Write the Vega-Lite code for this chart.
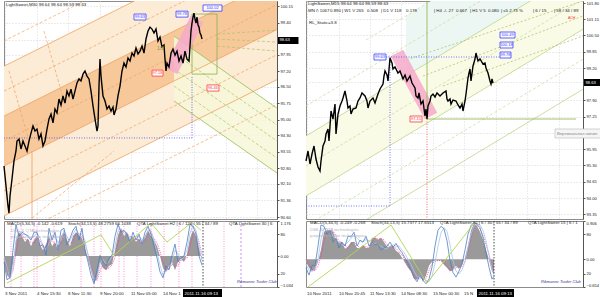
{
"$schema": "https://vega.github.io/schema/vega-lite/v6.json",
"padding": 0,
"background": "white",
"bounds": "flush",
"columns": 2,
"spacing": {"row": 2, "column": 29},
"config": {
 "view": {"stroke": "#8c8c8c", "strokeWidth": 1},
 "axis": {"labelFont": "Liberation Sans", "labelFontSize": 4.1, "labelColor": "#222", "tickColor": "#555", "domainColor": "#555", "tickSize": 2, "labelPadding": 1, "labelOverlap": false},
 "text": {"font": "Liberation Sans", "fontSize": 4.4}
},
"concat": [
  {"width": 273, "height": 218,
   "encoding": {
    "x": {"field": "t", "type": "quantitative", "title": null, "scale": {"domain": [0, 273], "nice": false, "zero": false}, "axis": {"values": [1,33,64,96,127,159,190,222,253], "labels": false, "ticks": false, "domain": false, "grid": true, "gridDash": [1,2], "gridColor": "#dadada"}},
    "y": {"field": "p", "type": "quantitative", "title": null, "scale": {"domain": [90.51, 100.38], "nice": false, "zero": false},
     "axis": {"orient": "right", "values": [100.15,99.40,98.63,97.95,97.20,96.50,95.75,95.00,94.30,93.55,92.80,92.10,91.36,90.60], "format": ".2f", "grid": true, "gridDash": [1,2], "gridColor": "#d6d6d6",
      "tickSize": {"condition": {"test": "datum.value === 98.63", "value": 21}, "value": 2},
      "tickWidth": {"condition": {"test": "datum.value === 98.63", "value": 7}, "value": 1},
      "tickColor": {"condition": {"test": "datum.value === 98.63", "value": "#000"}, "value": "#555"},
      "labelPadding": {"condition": {"test": "datum.value === 98.63", "value": -19}, "value": 1},
      "labelColor": {"condition": {"test": "datum.value === 98.63", "value": "#fff"}, "value": "#222"}}}
   },
   "layer": [
    {"data": {"values": [{"t":0,"p":97.43,"p2":90.65},{"t":273,"p":103.61,"p2":96.82}]}, "mark": {"type": "area", "color": "#fcebd5", "clip": true}, "encoding": {"y2": {"field": "p2"}}},
    {"data": {"values": [{"t":0,"p":95.17,"p2":92.91},{"t":273,"p":101.35,"p2":99.09}]}, "mark": {"type": "area", "color": "#f7c99a", "clip": true}, "encoding": {"y2": {"field": "p2"}}},
    {"data": {"values": [{"t":170,"p":98.79,"p2":95.85},{"t":273,"p":95.53,"p2":92.59}]}, "mark": {"type": "area", "color": "#f7f7d8", "opacity": 0.85, "clip": true}, "encoding": {"y2": {"field": "p2"}}},
    {"data": {"values": [{"t":0,"p":97.43,"k":"a"},{"t":273,"p":103.61,"k":"a"},{"t":0,"p":95.17,"k":"b"},{"t":273,"p":101.35,"k":"b"},{"t":0,"p":92.91,"k":"c"},{"t":273,"p":99.09,"k":"c"},{"t":0,"p":90.65,"k":"d"},{"t":273,"p":96.82,"k":"d"},{"t":28,"p":93.59,"k":"e"},{"t":28,"p":90.51,"k":"e"}]}, "mark": {"type": "line", "color": "#f0a060", "strokeWidth": 0.8, "clip": true}, "encoding": {"detail": {"field": "k"}}},
    {"data": {"values": [{"t":0,"p":98.57,"k":"a"},{"t":273,"p":104.74,"k":"a"},{"t":0,"p":96.30,"k":"b"},{"t":273,"p":102.48,"k":"b"},{"t":0,"p":94.04,"k":"c"},{"t":273,"p":100.22,"k":"c"},{"t":0,"p":91.78,"k":"d"},{"t":273,"p":97.95,"k":"d"},{"t":0,"p":89.52,"k":"e"},{"t":273,"p":95.69,"k":"e"},{"t":40,"p":99.02,"k":"f"},{"t":60,"p":95.85,"k":"f"},{"t":5,"p":97.21,"k":"g"},{"t":25,"p":94.04,"k":"g"},{"t":28,"p":90.55,"k":"h"},{"t":110,"p":93.59,"k":"h"}]}, "mark": {"type": "line", "color": "#f0a060", "strokeWidth": 0.7, "strokeDash": [3,2], "clip": true}, "encoding": {"detail": {"field": "k"}}},
    {"data": {"values": [{"t":170,"p":98.79,"k":"a"},{"t":273,"p":95.53,"k":"a"},{"t":170,"p":95.85,"k":"b"},{"t":273,"p":92.59,"k":"b"}]}, "mark": {"type": "line", "color": "#9bbb59", "strokeWidth": 0.8, "clip": true}, "encoding": {"detail": {"field": "k"}}},
    {"data": {"values": [{"t":170,"p":98.02,"k":"a"},{"t":273,"p":94.77,"k":"a"},{"t":170,"p":97.30,"k":"b"},{"t":273,"p":94.04,"k":"b"},{"t":170,"p":96.53,"k":"c"},{"t":273,"p":93.27,"k":"c"},{"t":213,"p":98.88,"k":"d"},{"t":273,"p":99.06,"k":"d"},{"t":213,"p":98.66,"k":"e"},{"t":273,"p":98.52,"k":"e"},{"t":213,"p":98.34,"k":"f"},{"t":273,"p":98.11,"k":"f"}]}, "mark": {"type": "line", "color": "#a9c463", "strokeWidth": 0.7, "strokeDash": [3,2], "clip": true}, "encoding": {"detail": {"field": "k"}}},
    {"data": {"values": [{"a":188,"b":213,"hi":99.79,"lo":97.07}]}, "mark": {"type": "rect", "fillOpacity": 0, "stroke": "#8fae4a", "strokeWidth": 0.8}, "encoding": {"x": {"field": "a", "type": "quantitative"}, "x2": {"field": "b"}, "y": {"field": "hi", "type": "quantitative"}, "y2": {"field": "lo"}}},
    {"data": {"values": [{"t":160.7,"p":97.35,"p2":97.35},{"t":173.3,"p":98.49,"p2":97.07},{"t":186.7,"p":99.70,"p2":98.28},{"t":199.3,"p":99.42,"p2":99.42}]}, "mark": {"type": "area", "color": "#f6a9c9", "opacity": 0.85}, "encoding": {"y2": {"field": "p2"}}},
    {"data": {"values": [{"p":98.63}]}, "mark": {"type": "rule", "color": "#b9b9b9", "strokeWidth": 0.8}, "encoding": {"x": {"datum": 0}, "x2": {"datum": 273}}},
    {"data": {"values": [{"t":0,"t2":188,"p":94.18,"p2":94.18},{"t":188,"t2":188,"p":94.18,"p2":96.98}]}, "mark": {"type": "rule", "color": "#5050ff", "strokeWidth": 0.8, "strokeDash": [1,1.5]}, "encoding": {"x2": {"field": "t2"}, "y2": {"field": "p2"}}},
    {"data": {"values": [{"t":199}]}, "mark": {"type": "rule", "color": "#222", "strokeWidth": 0.8, "strokeDash": [1.5,1.5]}, "encoding": {"y": {"datum": 100.38}, "y2": {"datum": 90.51}}},
    {"data": {"values": [{"t":0,"p":92.91},{"t":2,"p":92.00},{"t":4,"p":91.10},{"t":5,"p":90.78},{"t":6,"p":91.55},{"t":8,"p":92.32},{"t":10,"p":93.14},{"t":12,"p":93.59},{"t":13,"p":94.04},{"t":15,"p":94.13},{"t":17,"p":93.68},{"t":19,"p":94.04},{"t":21,"p":93.82},{"t":23,"p":93.59},{"t":25,"p":94.04},{"t":27,"p":94.40},{"t":29,"p":94.72},{"t":31,"p":94.49},{"t":33,"p":94.58},{"t":35,"p":94.13},{"t":37,"p":94.36},{"t":39,"p":93.82},{"t":41,"p":94.04},{"t":43,"p":94.58},{"t":45,"p":95.04},{"t":47,"p":95.26},{"t":49,"p":94.86},{"t":51,"p":95.49},{"t":53,"p":95.31},{"t":55,"p":95.94},{"t":57,"p":95.67},{"t":59,"p":96.08},{"t":61,"p":95.76},{"t":63,"p":96.30},{"t":65,"p":96.08},{"t":67,"p":96.39},{"t":69,"p":95.94},{"t":71,"p":96.30},{"t":73,"p":96.67},{"t":75,"p":96.85},{"t":77,"p":96.76},{"t":79,"p":97.07},{"t":81,"p":97.21},{"t":83,"p":96.98},{"t":85,"p":96.85},{"t":87,"p":96.30},{"t":89,"p":95.63},{"t":91,"p":95.04},{"t":93,"p":94.49},{"t":94,"p":94.72},{"t":95,"p":96.53},{"t":96,"p":97.75},{"t":97,"p":96.98},{"t":99,"p":96.08},{"t":101,"p":95.85},{"t":103,"p":95.49},{"t":105,"p":95.63},{"t":107,"p":95.40},{"t":109,"p":95.58},{"t":110,"p":95.22},{"t":112,"p":95.49},{"t":114,"p":96.08},{"t":116,"p":96.53},{"t":118,"p":97.21},{"t":120,"p":97.57},{"t":122,"p":97.39},{"t":124,"p":97.80},{"t":126,"p":97.66},{"t":128,"p":98.02},{"t":130,"p":97.89},{"t":132,"p":98.25},{"t":134,"p":97.98},{"t":136,"p":98.11},{"t":138,"p":98.34},{"t":140,"p":98.02},{"t":142,"p":98.66},{"t":144,"p":99.02},{"t":146,"p":99.20},{"t":148,"p":99.11},{"t":150,"p":98.93},{"t":152,"p":99.11},{"t":154,"p":98.57},{"t":156,"p":98.75},{"t":158,"p":98.30},{"t":160,"p":98.39},{"t":161,"p":97.75},{"t":162,"p":97.21},{"t":163,"p":97.57},{"t":165,"p":97.39},{"t":167,"p":98.02},{"t":169,"p":98.20},{"t":171,"p":97.93},{"t":173,"p":98.11},{"t":175,"p":97.66},{"t":177,"p":97.89},{"t":179,"p":97.57},{"t":181,"p":98.11},{"t":183,"p":97.75},{"t":185,"p":97.66},{"t":186,"p":98.34},{"t":187,"p":99.02},{"t":188,"p":99.38},{"t":189,"p":99.65},{"t":190,"p":99.83},{"t":191,"p":99.56},{"t":192,"p":99.38},{"t":193,"p":99.65},{"t":194,"p":99.29},{"t":195,"p":99.20},{"t":196,"p":98.93},{"t":197,"p":98.84},{"t":198,"p":98.66}]}, "mark": {"type": "line", "color": "#000", "strokeWidth": 1.4}},
    {"data": {"values": [{"a":130,"b":142,"hi":99.79,"lo":99.52,"t":136,"p":99.65,"k":"up","txt":"99.63"},{"a":172,"b":184,"hi":99.92,"lo":99.65,"t":178,"p":99.79,"k":"up","txt":"99.78"},{"a":199,"b":218,"hi":100.20,"lo":99.92,"t":208.5,"p":100.06,"k":"up","txt":"100.02"},{"a":148,"b":159,"hi":97.25,"lo":96.98,"t":153.5,"p":97.12,"k":"dn","txt":"97.18"},{"a":203,"b":215,"hi":96.58,"lo":96.30,"t":209,"p":96.44,"k":"dn","txt":"96.46"}]},
     "layer": [
      {"mark": {"type": "rect", "fill": "#fbfbff", "strokeWidth": 0.8}, "encoding": {"x": {"field": "a", "type": "quantitative"}, "x2": {"field": "b"}, "y": {"field": "hi", "type": "quantitative"}, "y2": {"field": "lo"}, "stroke": {"field": "k", "type": "nominal", "scale": {"domain": ["up","dn"], "range": ["#3c3cff","#ff3c3c"]}, "legend": null}}},
      {"mark": {"type": "text", "fontSize": 4, "align": "center", "baseline": "middle"}, "encoding": {"text": {"field": "txt"}, "color": {"field": "k", "type": "nominal", "scale": {"domain": ["up","dn"], "range": ["#3c3cff","#ff3c3c"]}, "legend": null}}}
     ]},
    {"data": {"values": [{"t":2,"p":100.31,"txt":"LightSweet,M30  98.64 98.64 98.59 98.63"}]}, "mark": {"type": "text", "align": "left", "baseline": "top", "color": "#222"}, "encoding": {"text": {"field": "txt"}}},
    {"data": {"values": [{"t":153,"p":98.25,"txt":"1/2"}]}, "mark": {"type": "text", "align": "left", "baseline": "middle", "color": "#8a9a40", "fontSize": 5}, "encoding": {"text": {"field": "txt"}}}
   ]
  },
  {"width": 277, "height": 218,
   "encoding": {
    "x": {"field": "t", "type": "quantitative", "title": null, "scale": {"domain": [0, 277], "nice": false, "zero": false}, "axis": {"values": [1,33,64,95,127,158,190,221,253], "labels": false, "ticks": false, "domain": false, "grid": true, "gridDash": [1,2], "gridColor": "#dadada"}},
    "y": {"field": "p", "type": "quantitative", "title": null, "scale": {"domain": [93.16, 101.88], "nice": false, "zero": false},
     "axis": {"orient": "right", "values": [101.80,101.15,100.50,99.85,99.20,98.63,97.90,97.25,96.60,95.95,95.30,94.65,94.00,93.35], "format": ".2f", "grid": true, "gridDash": [1,2], "gridColor": "#d6d6d6",
      "tickSize": {"condition": {"test": "datum.value === 98.63", "value": 21}, "value": 2},
      "tickWidth": {"condition": {"test": "datum.value === 98.63", "value": 7}, "value": 1},
      "tickColor": {"condition": {"test": "datum.value === 98.63", "value": "#000"}, "value": "#555"},
      "labelPadding": {"condition": {"test": "datum.value === 98.63", "value": -19}, "value": 1},
      "labelColor": {"condition": {"test": "datum.value === 98.63", "value": "#fff"}, "value": "#222"}}}
   },
   "layer": [
    {"data": {"values": [{"t":0,"p":96.48,"p2":94.08},{"t":277,"p":103.15,"p2":100.75}]}, "mark": {"type": "area", "color": "#fafbe6", "clip": true}, "encoding": {"y2": {"field": "p2"}}},
    {"data": {"values": [{"t":100,"p":101.28,"p2":98.88},{"t":277,"p":105.55,"p2":103.15}]}, "mark": {"type": "area", "color": "#ecf7f4", "clip": true}, "encoding": {"y2": {"field": "p2"}}},
    {"data": {"values": [{"t":0,"p":94.08,"k":"a"},{"t":277,"p":100.75,"k":"a"},{"t":0,"p":96.48,"k":"b"},{"t":277,"p":103.15,"k":"b"},{"t":0,"p":91.68,"k":"c"},{"t":277,"p":98.35,"k":"c"}]}, "mark": {"type": "line", "color": "#bdd48c", "strokeWidth": 0.8, "clip": true}, "encoding": {"detail": {"field": "k"}}},
    {"data": {"values": [{"t":0,"p":95.28,"k":"a"},{"t":277,"p":101.95,"k":"a"},{"t":0,"p":97.68,"k":"b"},{"t":277,"p":104.35,"k":"b"},{"t":0,"p":92.88,"k":"c"},{"t":277,"p":99.55,"k":"c"},{"t":60,"p":100.32,"k":"d"},{"t":277,"p":105.55,"k":"d"}]}, "mark": {"type": "line", "color": "#c6da98", "strokeWidth": 0.7, "strokeDash": [3,2], "clip": true}, "encoding": {"detail": {"field": "k"}}},
    {"data": {"values": [{"t":97,"p":99.48,"k":"a"},{"t":277,"p":101.88,"k":"a"},{"t":117,"p":98.88,"k":"b"},{"t":277,"p":101.28,"k":"b"},{"t":137,"p":98.48,"k":"c"},{"t":277,"p":100.48,"k":"c"}]}, "mark": {"type": "line", "color": "#a2bc5c", "strokeWidth": 0.7, "strokeDash": [2,2], "clip": true}, "encoding": {"detail": {"field": "k"}}},
    {"data": {"values": [{"t":84.8,"p":99.67,"p2":99.67},{"t":97.2,"p":99.93,"p2":98.75},{"t":118.8,"p":98.33,"p2":97.15},{"t":131.2,"p":97.41,"p2":97.41}]}, "mark": {"type": "area", "color": "#f6a9c9", "opacity": 0.85}, "encoding": {"y2": {"field": "p2"}}},
    {"data": {"values": [{"p":98.63}]}, "mark": {"type": "rule", "color": "#f4a582", "strokeWidth": 1.1}, "encoding": {"x": {"datum": 0}, "x2": {"datum": 277}}},
    {"data": {"values": [{"t":121,"t2":121,"p":101.88,"p2":97.16},{"t":121,"t2":270,"p":97.16,"p2":97.16}]}, "mark": {"type": "rule", "color": "#8fb04a", "strokeWidth": 0.8}, "encoding": {"x2": {"field": "t2"}, "y2": {"field": "p2"}}},
    {"data": {"values": [{"t":80,"t2":194,"p":99.64,"p2":99.64},{"t":84,"t2":84,"p":99.64,"p2":93.68},{"t":0,"t2":84,"p":93.68,"p2":93.68}]}, "mark": {"type": "rule", "color": "#5050ff", "strokeWidth": 0.8, "strokeDash": [1,1.5]}, "encoding": {"x2": {"field": "t2"}, "y2": {"field": "p2"}}},
    {"data": {"values": [{"t":121,"t2":121,"p":97.16,"p2":93.16}]}, "mark": {"type": "rule", "color": "#ff4040", "strokeWidth": 0.8, "strokeDash": [1,1.5]}, "encoding": {"x2": {"field": "t2"}, "y2": {"field": "p2"}}},
    {"data": {"values": [{"t":188}]}, "mark": {"type": "rule", "color": "#222", "strokeWidth": 0.8, "strokeDash": [1.5,1.5]}, "encoding": {"y": {"datum": 101.88}, "y2": {"datum": 93.16}}},
    {"data": {"values": [{"t":0,"p":95.48},{"t":2,"p":95.88},{"t":4,"p":95.36},{"t":6,"p":95.76},{"t":8,"p":96.08},{"t":10,"p":95.56},{"t":12,"p":95.24},{"t":14,"p":95.08},{"t":15,"p":95.48},{"t":17,"p":96.08},{"t":19,"p":96.28},{"t":20,"p":96.56},{"t":22,"p":96.76},{"t":23,"p":96.28},{"t":25,"p":97.48},{"t":27,"p":97.16},{"t":29,"p":97.76},{"t":30,"p":96.56},{"t":32,"p":97.36},{"t":34,"p":97.68},{"t":36,"p":97.88},{"t":37,"p":98.00},{"t":39,"p":98.28},{"t":41,"p":97.88},{"t":42,"p":97.60},{"t":44,"p":97.68},{"t":45,"p":97.36},{"t":47,"p":97.56},{"t":50,"p":97.60},{"t":52,"p":97.88},{"t":54,"p":98.00},{"t":56,"p":98.20},{"t":59,"p":98.08},{"t":61,"p":97.88},{"t":62,"p":97.60},{"t":64,"p":97.88},{"t":67,"p":98.00},{"t":69,"p":97.80},{"t":72,"p":98.16},{"t":74,"p":98.36},{"t":77,"p":98.56},{"t":78,"p":98.88},{"t":79,"p":99.08},{"t":81,"p":98.92},{"t":82,"p":98.68},{"t":84,"p":99.60},{"t":86,"p":99.40},{"t":87,"p":99.16},{"t":89,"p":99.24},{"t":92,"p":99.00},{"t":94,"p":99.08},{"t":97,"p":98.76},{"t":99,"p":98.92},{"t":101,"p":98.68},{"t":104,"p":98.88},{"t":106,"p":98.60},{"t":109,"p":98.40},{"t":110,"p":98.08},{"t":112,"p":98.00},{"t":113,"p":98.20},{"t":115,"p":97.76},{"t":117,"p":97.88},{"t":119,"p":97.28},{"t":120,"p":97.56},{"t":121,"p":97.16},{"t":122,"p":97.68},{"t":124,"p":97.88},{"t":125,"p":98.08},{"t":127,"p":98.16},{"t":129,"p":98.04},{"t":131,"p":98.20},{"t":134,"p":98.08},{"t":137,"p":98.20},{"t":140,"p":98.28},{"t":141,"p":97.96},{"t":142,"p":97.88},{"t":144,"p":97.96},{"t":145,"p":97.76},{"t":147,"p":97.92},{"t":150,"p":97.88},{"t":152,"p":97.72},{"t":154,"p":97.60},{"t":156,"p":97.76},{"t":157,"p":97.48},{"t":159,"p":97.88},{"t":160,"p":98.16},{"t":162,"p":98.80},{"t":163,"p":99.00},{"t":164,"p":99.16},{"t":165,"p":98.68},{"t":167,"p":99.28},{"t":169,"p":99.56},{"t":170,"p":99.80},{"t":172,"p":99.48},{"t":174,"p":99.56},{"t":177,"p":99.36},{"t":179,"p":99.40},{"t":180,"p":99.20},{"t":182,"p":99.00},{"t":184,"p":98.68},{"t":185,"p":98.56},{"t":186,"p":98.76},{"t":187,"p":98.60}]}, "mark": {"type": "line", "color": "#000", "strokeWidth": 1.4}},
    {"data": {"values": [{"a":68,"b":80,"hi":99.76,"lo":99.52,"t":74,"p":99.64,"k":"up","txt":"99.63"},{"a":194,"b":205,"hi":99.84,"lo":99.60,"t":199.5,"p":99.72,"k":"up","txt":"99.78"},{"a":194,"b":207,"hi":100.24,"lo":100.00,"t":200.5,"p":100.12,"k":"up","txt":"100.18"},{"a":194,"b":209,"hi":100.64,"lo":100.40,"t":201.5,"p":100.52,"k":"up","txt":"100.49"},{"a":104,"b":116,"hi":97.28,"lo":97.04,"t":110,"p":97.16,"k":"dn","txt":"97.15"}]},
     "layer": [
      {"mark": {"type": "rect", "fill": "#fbfbff", "strokeWidth": 0.8}, "encoding": {"x": {"field": "a", "type": "quantitative"}, "x2": {"field": "b"}, "y": {"field": "hi", "type": "quantitative"}, "y2": {"field": "lo"}, "stroke": {"field": "k", "type": "nominal", "scale": {"domain": ["up","dn"], "range": ["#3c3cff","#ff3c3c"]}, "legend": null}}},
      {"mark": {"type": "text", "fontSize": 4, "align": "center", "baseline": "middle"}, "encoding": {"text": {"field": "txt"}, "color": {"field": "k", "type": "nominal", "scale": {"domain": ["up","dn"], "range": ["#3c3cff","#ff3c3c"]}, "legend": null}}}
     ]},
    {"data": {"values": [{"a":249,"b":298,"hi":96.76,"lo":96.40}]}, "mark": {"type": "rect", "fill": "#f5f5f5", "stroke": "#c0c0c0", "strokeWidth": 0.7}, "encoding": {"x": {"field": "a", "type": "quantitative"}, "x2": {"field": "b"}, "y": {"field": "hi", "type": "quantitative"}, "y2": {"field": "lo"}}},
    {"data": {"values": [{"t":251,"p":96.58,"txt":"Вертикальная линия"}]}, "mark": {"type": "text", "align": "left", "baseline": "middle", "color": "#888", "fontSize": 4.2}, "encoding": {"text": {"field": "txt"}}},
    {"data": {"values": [{"t":2,"p":101.83,"txt":"LightSweet,M15  98.64 98.64 98.59 98.63"},{"t":2,"p":101.55,"txt":"MN /\\ 1067"},{"t":24,"p":101.55,"txt":"0.890"},{"t":36,"p":101.55,"txt":"| W1 V 265"},{"t":61,"p":101.55,"txt":"0.508"},{"t":75,"p":101.55,"txt":"| D1 V 118"},{"t":100,"p":101.55,"txt":"0.178"},{"t":128,"p":101.55,"txt":"| H4 -/- 27"},{"t":150,"p":101.55,"txt":"0.667"},{"t":164,"p":101.55,"txt":"| H1 V 5"},{"t":182,"p":101.55,"txt":"0.080"},{"t":195,"p":101.55,"txt":"| s5  2.73 %"},{"t":227,"p":101.55,"txt":"| 6 / 15"},{"t":248,"p":101.55,"txt":"| 58 / 34 / 89"},{"t":3,"p":101.08,"txt":"RL_Static=3.8"}]}, "mark": {"type": "text", "align": "left", "baseline": "top", "color": "#222"}, "encoding": {"text": {"field": "txt"}}},
    {"data": {"values": [{"t":262,"p":101.20,"txt":"ACH"}]}, "mark": {"type": "text", "align": "left", "baseline": "middle", "color": "#ff3030", "fontSize": 3.5}, "encoding": {"text": {"field": "txt"}}}
   ]
  },
  {"width": 273, "height": 66,
   "encoding": {"x": {"field": "t", "type": "quantitative", "title": null, "scale": {"domain": [0, 273], "nice": false, "zero": false}, "axis": null}},
   "resolve": {"scale": {"y": "independent"}},
   "layer": [
    {"data": {"values": [{"v":80},{"v":20}]}, "mark": {"type": "rule", "color": "#c8c8c8", "strokeDash": [1,2], "strokeWidth": 0.8}, "encoding": {"x": {"datum": 0}, "x2": {"datum": 273}, "y": {"field": "v", "type": "quantitative", "scale": {"domain": [0,100], "nice": false, "zero": false}, "axis": null}}},
    {"data": {"values": [{"t":7},{"t":17},{"t":30},{"t":33},{"t":50},{"t":77},{"t":90},{"t":97},{"t":115},{"t":120},{"t":133},{"t":147},{"t":160},{"t":175},{"t":188},{"t":220}]}, "mark": {"type": "rule", "color": "#ff66cc", "strokeWidth": 0.7, "strokeDash": [1,1.5]}},
    {"data": {"values": [{"t":237}]}, "mark": {"type": "rule", "color": "#a066ee", "strokeWidth": 0.7, "strokeDash": [2,2]}},
    {"data": {"name": "indL", "values": [{"t":0,"m":-0.20,"g":-0.10,"s1":38,"s2":45},{"t":3,"m":-0.64,"g":-0.42,"s1":11,"s2":30},{"t":6,"m":-0.75,"g":-0.70,"s1":14,"s2":13},{"t":9,"m":-0.25,"g":-0.50,"s1":56,"s2":30},{"t":12,"m":0.54,"g":0.15,"s1":94,"s2":70},{"t":15,"m":0.80,"g":0.67,"s1":77,"s2":85},{"t":18,"m":0.67,"g":0.73,"s1":83,"s2":80},{"t":21,"m":0.47,"g":0.57,"s1":80,"s2":80},{"t":24,"m":0.60,"g":0.53,"s1":77,"s2":78},{"t":27,"m":0.33,"g":0.46,"s1":71,"s2":74},{"t":30,"m":0.54,"g":0.44,"s1":83,"s2":76},{"t":33,"m":0.67,"g":0.60,"s1":83,"s2":82},{"t":36,"m":0.37,"g":0.52,"s1":62,"s2":74},{"t":39,"m":0.20,"g":0.28,"s1":64,"s2":63},{"t":42,"m":0.40,"g":0.30,"s1":48,"s2":56},{"t":45,"m":0.67,"g":0.54,"s1":89,"s2":66},{"t":48,"m":0.33,"g":0.50,"s1":71,"s2":78},{"t":51,"m":0.47,"g":0.40,"s1":83,"s2":76},{"t":54,"m":0.20,"g":0.33,"s1":56,"s2":68},{"t":57,"m":0.67,"g":0.44,"s1":86,"s2":70},{"t":60,"m":0.80,"g":0.74,"s1":89,"s2":86},{"t":63,"m":0.54,"g":0.67,"s1":64,"s2":76},{"t":66,"m":0.33,"g":0.43,"s1":74,"s2":70},{"t":69,"m":0.67,"g":0.50,"s1":86,"s2":80},{"t":72,"m":0.80,"g":0.74,"s1":92,"s2":88},{"t":75,"m":0.70,"g":0.75,"s1":71,"s2":80},{"t":78,"m":0.60,"g":0.65,"s1":89,"s2":80},{"t":81,"m":0.27,"g":0.43,"s1":56,"s2":70},{"t":84,"m":-0.13,"g":0.07,"s1":38,"s2":48},{"t":87,"m":-0.47,"g":-0.30,"s1":18,"s2":28},{"t":90,"m":-0.90,"g":-0.68,"s1":5,"s2":12},{"t":93,"m":-0.74,"g":-0.82,"s1":26,"s2":14},{"t":96,"m":-0.20,"g":-0.47,"s1":48,"s2":36},{"t":99,"m":-0.40,"g":-0.30,"s1":38,"s2":42},{"t":102,"m":-0.47,"g":-0.43,"s1":32,"s2":35},{"t":105,"m":-0.33,"g":-0.40,"s1":44,"s2":38},{"t":108,"m":-0.27,"g":-0.30,"s1":48,"s2":46},{"t":111,"m":0.20,"g":-0.03,"s1":77,"s2":62},{"t":114,"m":0.70,"g":0.45,"s1":95,"s2":85},{"t":117,"m":0.94,"g":0.82,"s1":83,"s2":88},{"t":120,"m":0.67,"g":0.80,"s1":86,"s2":84},{"t":123,"m":0.80,"g":0.74,"s1":80,"s2":82},{"t":126,"m":0.54,"g":0.67,"s1":68,"s2":74},{"t":129,"m":0.67,"g":0.60,"s1":83,"s2":76},{"t":132,"m":0.47,"g":0.57,"s1":71,"s2":76},{"t":135,"m":0.60,"g":0.53,"s1":80,"s2":76},{"t":138,"m":0.40,"g":0.50,"s1":65,"s2":72},{"t":141,"m":0.67,"g":0.53,"s1":83,"s2":74},{"t":144,"m":0.87,"g":0.77,"s1":92,"s2":86},{"t":147,"m":0.67,"g":0.77,"s1":80,"s2":86},{"t":150,"m":0.54,"g":0.60,"s1":62,"s2":70},{"t":153,"m":0.33,"g":0.43,"s1":44,"s2":52},{"t":156,"m":0.00,"g":0.16,"s1":23,"s2":33},{"t":159,"m":-0.40,"g":-0.20,"s1":14,"s2":18},{"t":162,"m":-0.54,"g":-0.47,"s1":32,"s2":24},{"t":165,"m":-0.33,"g":-0.43,"s1":26,"s2":28},{"t":168,"m":-0.20,"g":-0.27,"s1":48,"s2":38},{"t":171,"m":-0.47,"g":-0.33,"s1":65,"s2":56},{"t":174,"m":-0.20,"g":-0.33,"s1":38,"s2":50},{"t":177,"m":-0.07,"g":-0.13,"s1":44,"s2":42},{"t":180,"m":-0.20,"g":-0.13,"s1":47,"s2":45},{"t":183,"m":0.07,"g":-0.07,"s1":68,"s2":56},{"t":186,"m":0.60,"g":0.33,"s1":95,"s2":82},{"t":189,"m":0.87,"g":0.73,"s1":92,"s2":93},{"t":192,"m":0.67,"g":0.77,"s1":80,"s2":86},{"t":195,"m":0.27,"g":0.47,"s1":47,"s2":62},{"t":198,"m":-0.13,"g":0.07,"s1":33,"s2":40}]},
     "mark": {"type": "area", "color": "#9a9a9a"},
     "encoding": {"y": {"field": "m", "type": "quantitative", "title": null, "scale": {"domain": [-1.034, 1.176], "nice": false, "zero": false},
       "axis": {"orient": "right", "values": [1.176, 0.734, 0, -0.592, -1.034], "labelFlush": true, "grid": false, "labelExpr": "datum.value == 0.734 ? '80' : datum.value == -0.592 ? '20' : datum.value == 0 ? '0.00' : format(datum.value, '.3f')"}},
      "y2": {"datum": 0}}},
    {"data": {"name": "indL"}, "mark": {"type": "line", "color": "#ff3399", "strokeWidth": 0.8, "strokeDash": [1,1]}, "encoding": {"y": {"field": "g", "type": "quantitative", "scale": {"domain": [-1.034, 1.176], "nice": false, "zero": false}, "axis": null}}},
    {"data": {"name": "indL"}, "mark": {"type": "line", "color": "#a8c6ea", "strokeWidth": 0.8}, "encoding": {"y": {"field": "s2", "type": "quantitative", "scale": {"domain": [0, 100], "nice": false, "zero": false}, "axis": null}}},
    {"data": {"name": "indL"}, "mark": {"type": "line", "color": "#4f7fc0", "strokeWidth": 0.8}, "encoding": {"y": {"field": "s1", "type": "quantitative", "scale": {"domain": [0, 100], "nice": false, "zero": false}, "axis": null}}},
    {"data": {"values": [{"t":3,"v":6},{"t":97,"v":79},{"t":110,"v":48},{"t":147,"v":97},{"t":163,"v":68},{"t":188,"v":98},{"t":197,"v":86}]}, "mark": {"type": "line", "color": "#b4d455", "strokeWidth": 0.9}, "encoding": {"y": {"field": "v", "type": "quantitative", "scale": {"domain": [0, 100], "nice": false, "zero": false}, "axis": null}}},
    {"data": {"values": [{"t":199}]}, "mark": {"type": "rule", "color": "#222", "strokeWidth": 0.8, "strokeDash": [1.5,1.5]}},
    {"data": {"values": [{"t":3,"v":95,"txt":"MACD(5,34,5) -0.142 -0.619"},{"t":64,"v":95,"txt":"Stoch(34,13,5) 48.2759 66.1038"},{"t":133,"v":95,"txt":"QTA LightSweet H2 | 6 / 120 / 55 / 34 / 89"},{"t":225,"v":95,"txt":"QTA LightSweet 30 | 6"}]}, "mark": {"type": "text", "align": "left", "baseline": "middle", "color": "#222"}, "encoding": {"text": {"field": "txt"}, "y": {"field": "v", "type": "quantitative", "scale": {"domain": [0, 100], "nice": false, "zero": false}, "axis": null}}},
    {"data": {"values": [{"t":7,"v":85,"txt":"DML & QTA technologies"},{"t":7,"v":76,"txt":"purposes of the technologies"}]}, "mark": {"type": "text", "align": "left", "baseline": "middle", "color": "#b4b4c4"}, "encoding": {"text": {"field": "txt"}, "y": {"field": "v", "type": "quantitative", "scale": {"domain": [0, 100], "nice": false, "zero": false}, "axis": null}}},
    {"data": {"values": [{"t":233,"v":7,"txt":"Rikmanov Trader Club"}]}, "mark": {"type": "text", "align": "left", "baseline": "middle", "color": "#333399", "fontStyle": "italic", "fontSize": 4}, "encoding": {"text": {"field": "txt"}, "y": {"field": "v", "type": "quantitative", "scale": {"domain": [0, 100], "nice": false, "zero": false}, "axis": null}}}
   ]
  },
  {"width": 277, "height": 66,
   "encoding": {"x": {"field": "t", "type": "quantitative", "title": null, "scale": {"domain": [0, 277], "nice": false, "zero": false}, "axis": null}},
   "resolve": {"scale": {"y": "independent"}},
   "layer": [
    {"data": {"values": [{"v":80},{"v":20}]}, "mark": {"type": "rule", "color": "#c8c8c8", "strokeDash": [1,2], "strokeWidth": 0.8}, "encoding": {"x": {"datum": 0}, "x2": {"datum": 277}, "y": {"field": "v", "type": "quantitative", "scale": {"domain": [0,100], "nice": false, "zero": false}, "axis": null}}},
    {"data": {"name": "indR", "values": [{"t":0,"m":-0.06,"g":0.00,"s1":29,"s2":35},{"t":3,"m":-0.20,"g":-0.12,"s1":18,"s2":25},{"t":6,"m":-0.29,"g":-0.24,"s1":33,"s2":24},{"t":9,"m":-0.24,"g":-0.27,"s1":32,"s2":28},{"t":12,"m":-0.06,"g":-0.16,"s1":62,"s2":42},{"t":15,"m":0.23,"g":0.08,"s1":94,"s2":72},{"t":18,"m":0.65,"g":0.45,"s1":92,"s2":90},{"t":21,"m":0.69,"g":0.66,"s1":80,"s2":88},{"t":24,"m":0.69,"g":0.68,"s1":86,"s2":84},{"t":27,"m":0.65,"g":0.67,"s1":68,"s2":78},{"t":30,"m":0.46,"g":0.55,"s1":74,"s2":72},{"t":33,"m":0.39,"g":0.43,"s1":59,"s2":68},{"t":36,"m":0.41,"g":0.40,"s1":68,"s2":64},{"t":39,"m":0.25,"g":0.33,"s1":62,"s2":64},{"t":42,"m":0.30,"g":0.28,"s1":77,"s2":68},{"t":45,"m":0.41,"g":0.36,"s1":76,"s2":74},{"t":48,"m":0.41,"g":0.41,"s1":83,"s2":78},{"t":51,"m":0.27,"g":0.34,"s1":62,"s2":74},{"t":54,"m":0.27,"g":0.27,"s1":71,"s2":70},{"t":57,"m":0.34,"g":0.30,"s1":68,"s2":68},{"t":60,"m":0.27,"g":0.30,"s1":77,"s2":72},{"t":63,"m":0.27,"g":0.27,"s1":62,"s2":70},{"t":66,"m":0.51,"g":0.40,"s1":68,"s2":66},{"t":69,"m":0.51,"g":0.51,"s1":64,"s2":66},{"t":72,"m":0.46,"g":0.48,"s1":65,"s2":64},{"t":75,"m":0.51,"g":0.48,"s1":56,"s2":62},{"t":78,"m":0.41,"g":0.46,"s1":59,"s2":58},{"t":81,"m":0.30,"g":0.35,"s1":62,"s2":58},{"t":84,"m":0.30,"g":0.30,"s1":68,"s2":62},{"t":87,"m":0.32,"g":0.31,"s1":60,"s2":64},{"t":90,"m":0.20,"g":0.26,"s1":66,"s2":62},{"t":93,"m":0.15,"g":0.18,"s1":58,"s2":62},{"t":96,"m":0.04,"g":0.10,"s1":52,"s2":56},{"t":99,"m":-0.08,"g":-0.02,"s1":44,"s2":50},{"t":102,"m":-0.20,"g":-0.14,"s1":36,"s2":42},{"t":105,"m":-0.29,"g":-0.25,"s1":26,"s2":34},{"t":108,"m":-0.46,"g":-0.38,"s1":14,"s2":24},{"t":111,"m":-0.48,"g":-0.47,"s1":8,"s2":16},{"t":114,"m":-0.36,"g":-0.42,"s1":18,"s2":12},{"t":117,"m":-0.53,"g":-0.45,"s1":10,"s2":14},{"t":120,"m":-0.38,"g":-0.45,"s1":5,"s2":10},{"t":123,"m":-0.15,"g":-0.26,"s1":12,"s2":8},{"t":126,"m":-0.06,"g":-0.10,"s1":30,"s2":16},{"t":129,"m":-0.03,"g":-0.05,"s1":62,"s2":36},{"t":132,"m":-0.03,"g":-0.03,"s1":86,"s2":62},{"t":135,"m":-0.03,"g":-0.03,"s1":92,"s2":82},{"t":138,"m":-0.13,"g":-0.08,"s1":88,"s2":90},{"t":141,"m":-0.20,"g":-0.17,"s1":70,"s2":84},{"t":144,"m":-0.29,"g":-0.25,"s1":40,"s2":64},{"t":147,"m":-0.24,"g":-0.26,"s1":22,"s2":40},{"t":150,"m":-0.15,"g":-0.19,"s1":15,"s2":24},{"t":153,"m":-0.22,"g":-0.18,"s1":24,"s2":20},{"t":156,"m":-0.13,"g":-0.17,"s1":35,"s2":26},{"t":159,"m":0.04,"g":-0.05,"s1":56,"s2":38},{"t":162,"m":0.32,"g":0.18,"s1":80,"s2":60},{"t":165,"m":0.69,"g":0.50,"s1":93,"s2":80},{"t":168,"m":0.84,"g":0.77,"s1":98,"s2":92},{"t":171,"m":0.79,"g":0.82,"s1":95,"s2":96},{"t":174,"m":0.65,"g":0.72,"s1":90,"s2":94},{"t":177,"m":0.46,"g":0.56,"s1":75,"s2":86},{"t":180,"m":0.23,"g":0.35,"s1":52,"s2":70},{"t":183,"m":-0.01,"g":0.11,"s1":30,"s2":48},{"t":186,"m":-0.29,"g":-0.15,"s1":12,"s2":28},{"t":188,"m":-0.34,"g":-0.30,"s1":16,"s2":18}]},
     "mark": {"type": "area", "color": "#9a9a9a"},
     "encoding": {"y": {"field": "m", "type": "quantitative", "title": null, "scale": {"domain": [-0.654, 0.906], "nice": false, "zero": false},
       "axis": {"orient": "right", "values": [0.906, 0.594, 0, -0.342, -0.654], "labelFlush": true, "grid": false, "labelExpr": "datum.value == 0.594 ? '80' : datum.value == -0.342 ? '20' : datum.value == 0 ? '0.00' : format(datum.value, '.3f')"}},
      "y2": {"datum": 0}}},
    {"data": {"name": "indR"}, "mark": {"type": "line", "color": "#ff3399", "strokeWidth": 0.8, "strokeDash": [1,1]}, "encoding": {"y": {"field": "g", "type": "quantitative", "scale": {"domain": [-0.654, 0.906], "nice": false, "zero": false}, "axis": null}}},
    {"data": {"name": "indR"}, "mark": {"type": "line", "color": "#a8c6ea", "strokeWidth": 0.8}, "encoding": {"y": {"field": "s2", "type": "quantitative", "scale": {"domain": [0, 100], "nice": false, "zero": false}, "axis": null}}},
    {"data": {"name": "indR"}, "mark": {"type": "line", "color": "#4f7fc0", "strokeWidth": 0.8}, "encoding": {"y": {"field": "s1", "type": "quantitative", "scale": {"domain": [0, 100], "nice": false, "zero": false}, "axis": null}}},
    {"data": {"values": [{"t":2,"v":0},{"t":85,"v":94},{"t":121,"v":6},{"t":170,"v":100}]}, "mark": {"type": "line", "color": "#b4d455", "strokeWidth": 0.9}, "encoding": {"y": {"field": "v", "type": "quantitative", "scale": {"domain": [0, 100], "nice": false, "zero": false}, "axis": null}}},
    {"data": {"values": [{"t":188}]}, "mark": {"type": "rule", "color": "#222", "strokeWidth": 0.8, "strokeDash": [1.5,1.5]}},
    {"data": {"values": [{"t":4,"v":97,"txt":"MACD(5,34,5) -0.249 -0.268"},{"t":65,"v":97,"txt":"Stoch(34,13,5) 15.7377 17.6513"},{"t":134,"v":97,"txt":"QTA LightSweet 30 | 6 / 30 / 55 / 34 / 89"},{"t":222,"v":97,"txt":"QTA LightSweet 15 | 6 / 1"}]}, "mark": {"type": "text", "align": "left", "baseline": "middle", "color": "#222"}, "encoding": {"text": {"field": "txt"}, "y": {"field": "v", "type": "quantitative", "scale": {"domain": [0, 100], "nice": false, "zero": false}, "axis": null}}},
    {"data": {"values": [{"t":4,"v":87,"txt":"DML & QTA technologies"},{"t":4,"v":78,"txt":"purposes of the technologies"}]}, "mark": {"type": "text", "align": "left", "baseline": "middle", "color": "#b4b4c4"}, "encoding": {"text": {"field": "txt"}, "y": {"field": "v", "type": "quantitative", "scale": {"domain": [0, 100], "nice": false, "zero": false}, "axis": null}}},
    {"data": {"values": [{"t":235,"v":7,"txt":"Rikmanov Trader Club"}]}, "mark": {"type": "text", "align": "left", "baseline": "middle", "color": "#333399", "fontStyle": "italic", "fontSize": 4}, "encoding": {"text": {"field": "txt"}, "y": {"field": "v", "type": "quantitative", "scale": {"domain": [0, 100], "nice": false, "zero": false}, "axis": null}}}
   ]
  },
  {"width": 273, "height": 9, "view": {"stroke": null},
   "encoding": {"x": {"field": "t", "type": "quantitative", "title": null, "scale": {"domain": [0, 273], "nice": false, "zero": false}, "axis": null}},
   "layer": [
    {"data": {"values": [{"t":1,"txt":"3 Nov 2011"},{"t":33,"txt":"4 Nov 15:30"},{"t":64,"txt":"8 Nov 11:30"},{"t":96,"txt":"9 Nov 20:00"},{"t":127,"txt":"11 Nov 05:00"},{"t":159,"txt":"14 Nov 1"}]}, "mark": {"type": "text", "align": "left", "baseline": "middle", "color": "#222"}, "encoding": {"text": {"field": "txt"}}},
    {"data": {"values": [{"t":179,"t2":218}]}, "mark": {"type": "rect", "color": "#000"}, "encoding": {"x2": {"field": "t2"}}},
    {"data": {"values": [{"t":180.5,"txt":"2011.11.16 09:13"}]}, "mark": {"type": "text", "align": "left", "baseline": "middle", "color": "#fff"}, "encoding": {"text": {"field": "txt"}}}
   ]
  },
  {"width": 277, "height": 9, "view": {"stroke": null},
   "encoding": {"x": {"field": "t", "type": "quantitative", "title": null, "scale": {"domain": [0, 277], "nice": false, "zero": false}, "axis": null}},
   "layer": [
    {"data": {"values": [{"t":1,"txt":"10 Nov 2011"},{"t":33,"txt":"10 Nov 20:45"},{"t":64,"txt":"11 Nov 13:30"},{"t":95,"txt":"14 Nov 08:30"},{"t":127,"txt":"15 Nov 00:30"},{"t":158,"txt":"15 N"}]}, "mark": {"type": "text", "align": "left", "baseline": "middle", "color": "#222"}, "encoding": {"text": {"field": "txt"}}},
    {"data": {"values": [{"t":171,"t2":208}]}, "mark": {"type": "rect", "color": "#000"}, "encoding": {"x2": {"field": "t2"}}},
    {"data": {"values": [{"t":172.5,"txt":"2011.11.16 09:13"}]}, "mark": {"type": "text", "align": "left", "baseline": "middle", "color": "#fff"}, "encoding": {"text": {"field": "txt"}}}
   ]
  }
]
}
